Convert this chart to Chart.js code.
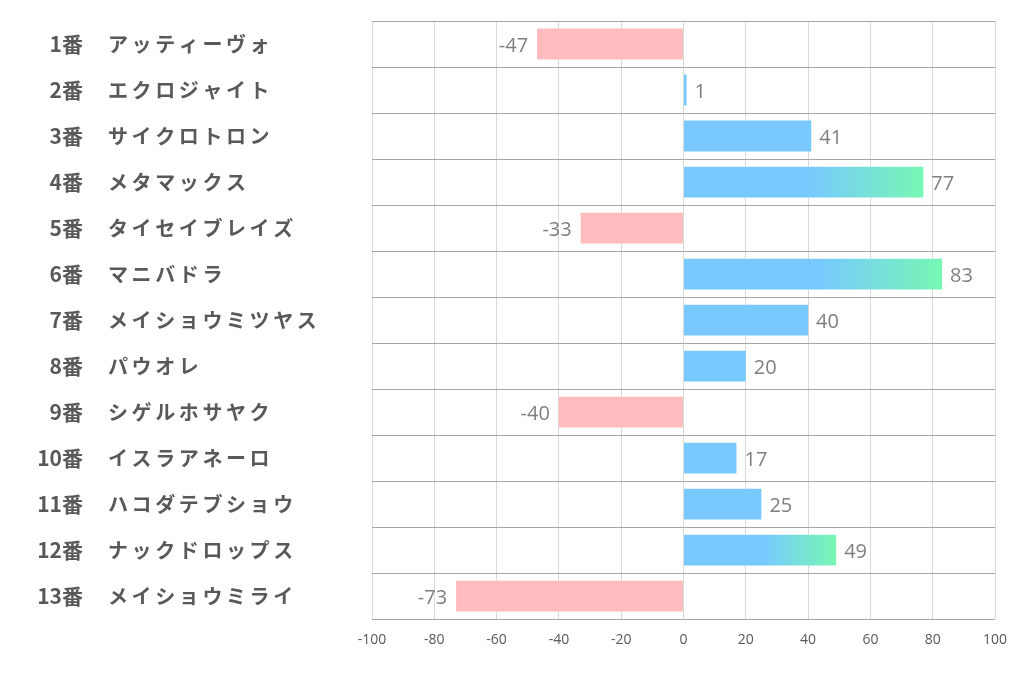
<!DOCTYPE html>
<html>
<head>
<meta charset="utf-8">
<script src="https://cdn.jsdelivr.net/npm/chart.js@4"></script>
<style>
  html, body { margin: 0; padding: 0; background: #fff; }
  #wrap { width: 1022px; height: 678px; }
</style>
</head>
<body>
<div id="wrap"><canvas id="c"></canvas></div>
<script>
const horseNos = ['1番', '2番', '3番', '4番', '5番', '6番', '7番', '8番', '9番', '10番', '11番', '12番', '13番'];
const horseNames = ['アッティーヴォ', 'エクロジャイト', 'サイクロトロン', 'メタマックス', 'タイセイブレイズ', 'マニバドラ',
  'メイショウミツヤス', 'パウオレ', 'シゲルホサヤク', 'イスラアネーロ', 'ハコダテブショウ', 'ナックドロップス', 'メイショウミライ'];
const scores = [-47, 1, 41, 77, -33, 83, 40, 20, -40, 17, 25, 49, -73];
const xTicks = [-100, -80, -60, -40, -20, 0, 20, 40, 60, 80, 100];

const BLUE = '#77c9ff';
const GREEN = '#77f7b3';
const PINK = '#ffbbbd';

// left-side labels: number right aligned, name left aligned
const rowLabels = {
  id: 'rowLabels',
  afterDraw(chart) {
    const ctx = chart.ctx;
    const y = chart.scales.y;
    ctx.save();
    ctx.fillStyle = '#595959';
    ctx.textBaseline = 'middle';
    horseNos.forEach((no, i) => {
      const py = y.getPixelForValue(i);
      ctx.font = 'bold 21px "Noto Sans CJK JP"';
      ctx.letterSpacing = '0px';
      ctx.textAlign = 'right';
      ctx.fillText(no, 83, py);
      ctx.font = 'bold 20px "Noto Sans CJK JP"';
      ctx.letterSpacing = '3.6px';
      ctx.textAlign = 'left';
      ctx.fillText(horseNames[i], 108, py);
    });
    ctx.restore();
  }
};

// value labels at bar ends
const valueLabels = {
  id: 'valueLabels',
  afterDatasetsDraw(chart) {
    const ctx = chart.ctx;
    const meta = chart.getDatasetMeta(0);
    ctx.save();
    ctx.fillStyle = '#7f7f7f';
    ctx.font = '20px "Open Sans"';
    ctx.textBaseline = 'middle';
    meta.data.forEach((bar, i) => {
      const v = scores[i];
      if (v >= 0) {
        ctx.textAlign = 'left';
        ctx.fillText(String(v), bar.x + 8, bar.y + 2);
      } else {
        ctx.textAlign = 'right';
        ctx.fillText(String(v), bar.x - 9, bar.y + 2);
      }
    });
    ctx.restore();
  }
};

new Chart(document.getElementById('c'), {
  type: 'bar',
  data: {
    labels: horseNames,
    datasets: [{
      data: scores,
      backgroundColor(c) {
        const v = scores[c.dataIndex];
        if (v < 0) return PINK;
        if (v < 45) return BLUE;
        const x = c.chart.scales.x;
        if (!x) return BLUE;
        const x0 = x.getPixelForValue(0);
        const x1 = x.getPixelForValue(v);
        const g = c.chart.ctx.createLinearGradient(x0 + (x1 - x0) * 0.52, 0, x1, 0);
        g.addColorStop(0, BLUE);
        g.addColorStop(1, GREEN);
        return g;
      },
      borderWidth: 0,
      barPercentage: 0.67,
      categoryPercentage: 1
    }]
  },
  options: {
    indexAxis: 'y',
    responsive: true,
    maintainAspectRatio: false,
    animation: false,
    layout: { padding: { top: 21, right: 27, bottom: 18, left: 0 } },
    plugins: {
      legend: { display: false },
      tooltip: { enabled: false }
    },
    scales: {
      x: {
        min: -100,
        max: 100,
        afterBuildTicks(s) { s.ticks = xTicks.map(v => ({ value: v })); },
        grid: { color: '#d9d9d9', drawTicks: false },
        border: { display: false },
        ticks: {
          color: '#595959',
          padding: 12,
          font: { family: 'Open Sans', size: 14 }
        }
      },
      y: {
        afterFit(s) { s.width = 372; },
        grid: { offset: true, color: '#a6a6a6', drawTicks: false },
        border: { display: false },
        ticks: { display: false }
      }
    }
  },
  plugins: [rowLabels, valueLabels]
});
</script>
</body>
</html>
